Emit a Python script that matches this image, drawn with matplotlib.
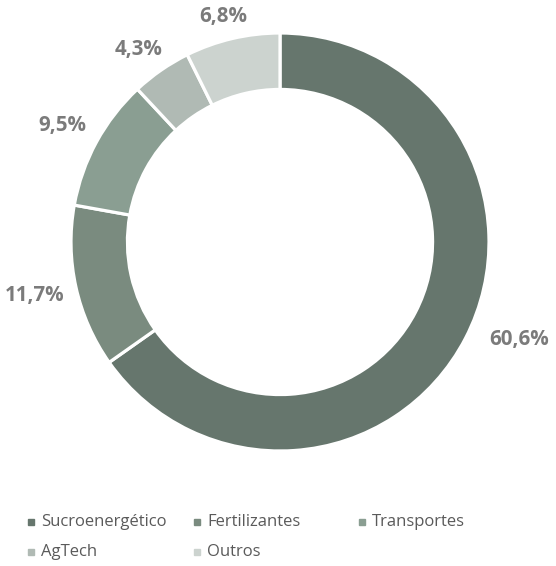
import matplotlib
matplotlib.use("Agg")
import matplotlib.pyplot as plt
import numpy as np

categories = ["Sucroenergético", "Fertilizantes", "Transportes", "AgTech", "Outros"]
values = [60.6, 11.7, 9.5, 4.3, 6.8]
labels = ["60,6%", "11,7%", "9,5%", "4,3%", "6,8%"]
colors = ["#66766d", "#7a8b7f", "#8a9e92", "#b0bab4", "#ccd3cf"]

W, H = 556, 566
fig = plt.figure(figsize=(W / 100, H / 100), dpi=100)
cx, cy, R = 280, 242, 209
ax = fig.add_axes([(cx - R) / W, 1 - (cy + R) / H, 2 * R / W, 2 * R / H])
wedges, _ = ax.pie(values, colors=colors, startangle=90, counterclock=False, radius=1,
                   wedgeprops=dict(width=0.27, edgecolor="white", linewidth=2.3))
ax.set_xlim(-1, 1)
ax.set_ylim(-1, 1)
ax.set_aspect("equal")
ax.axis("off")

texts = []
for w, lab in zip(wedges, labels):
    t = ax.text(0, 0, lab, ha="center", va="center", fontsize=14.8,
                fontweight="bold", color="#7b7b7b", family="Open Sans")
    texts.append((w, t))

fig.canvas.draw()
renderer = fig.canvas.get_renderer()
gap = 15.0  # px beyond outer edge
nudges = [(14, -10), (2, 3), (0, -4), (0, 0), (0, 3)]  # small pixel nudges
for (w, t), (nx, ny) in zip(texts, nudges):
    ang = np.deg2rad((w.theta1 + w.theta2) / 2)
    bb = t.get_window_extent(renderer)
    bw, bh = bb.width, bb.height
    px = cx + (R + gap) * np.cos(ang) + bw / 2 * np.cos(ang) + nx
    py = cy - (R + gap) * np.sin(ang) - bh / 2 * np.sin(ang) + ny
    px = min(px, 552 - bw / 2)
    px = max(px, 4 + bw / 2)
    py = max(py, 4 + bh / 2)
    t.set_position(((px - cx) / R, (cy - py) / R))

colx = [31, 197, 362]
rowy = [522, 552]
for i, (c, col) in enumerate(zip(categories, colors)):
    x = colx[i % 3]
    y = rowy[i // 3]
    fig.patches.append(plt.Rectangle(((x - 3) / W, 1 - (y + 3) / H), 6 / W, 6 / H,
                                     transform=fig.transFigure, color=col))
    fig.text((x + 10) / W, 1 - y / H, c, ha="left", va="center", fontsize=12,
             color="#5a5a5a", family="Open Sans")

fig.savefig("out.png", dpi=100)
